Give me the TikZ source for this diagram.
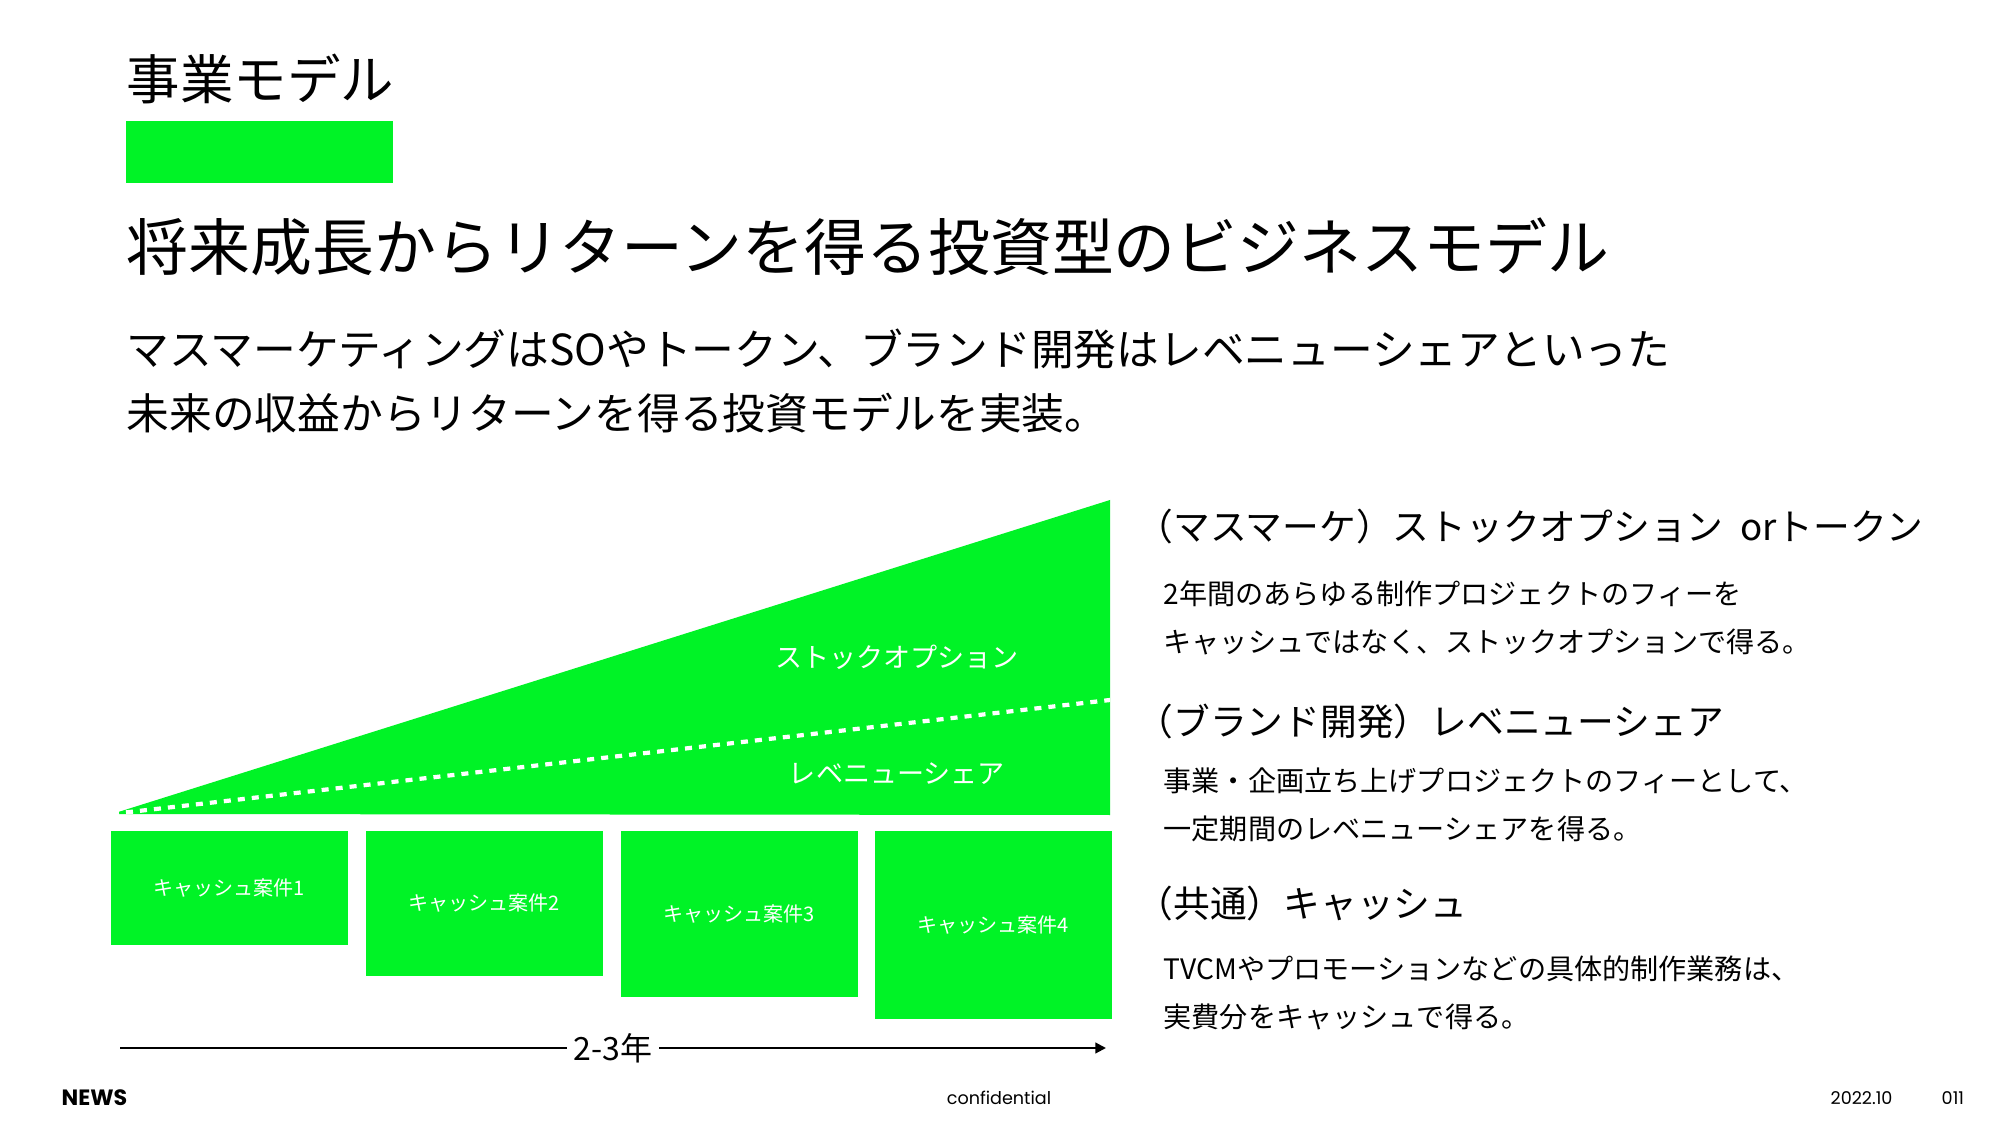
\documentclass[tikz,border=0pt]{standalone}
\usepackage{fontspec}
\setmainfont{Noto Sans CJK JP}
\newfontfamily\footfont{Poppins}
\usetikzlibrary{arrows.meta}
\definecolor{newsgreen}{RGB}{0,243,38}
\newcommand{\fsz}[1]{\fontsize{#1}{1.2\dimexpr#1\relax}\selectfont}

\begin{document}
\begin{tikzpicture}[x=0.01cm,y=-0.01cm,
    txt/.style={inner sep=0pt,anchor=west},
    pagetitle/.style={txt,font=\fsz{15.2pt}},
    catch/.style={txt,font=\fsz{17.6pt}},
    lead/.style={txt,font=\fsz{12.15pt}},
    subhead/.style={txt,font=\fsz{10.45pt}},
    body/.style={txt,font=\fsz{8pt}},
    layer/.style={inner sep=0pt,text=white,font=\fsz{7.7pt}},
    casebox/.style={fill=newsgreen,text=white,inner sep=0pt,anchor=north west,
        minimum width=2.37cm,font=\fsz{5.7pt}},
    foot/.style={inner sep=0pt,font=\footfont\fsz{5pt}}]
    \useasboundingbox[fill=white] (0,0) rectangle (2000,1125);

    % heading block
    \node[pagetitle] (title) at (126,79) {事業モデル};
    \fill[newsgreen] (126,121) rectangle (393,183);
    \node[catch] (catchline) at (126,247) {将来成長からリターンを得る投資型のビジネスモデル};
    \node[lead] (lead1) at (126,349) {マスマーケティングはSOやトークン、ブランド開発はレベニューシェアといった};
    \node[lead] (lead2) at (126,413) {未来の収益からリターンを得る投資モデルを実装。};

    % growth wedge
    \coordinate (apex) at (112,814);
    \coordinate (peak) at (1110,500);
    \coordinate (base) at (1110,815);
    \coordinate (split) at (1110,700);
    \fill[newsgreen] (apex) -- (peak) -- (base) -- cycle;
    \draw[white,line width=1.2pt,dash pattern=on 2pt off 2pt] (apex) -- (split);
    \node[layer] (stock) at (897,657) {ストックオプション};
    \node[layer] (share) at (897,774) {レベニューシェア};

    % cash projects
    \foreach \i/\X/\H in {1/110/1.14,2/365/1.45,3/620/1.66,4/874/1.88} {
        \node[casebox,minimum height=\H cm] (case\i) at (\X,830) {キャッシュ案件\i};}

    % time axis
    \coordinate (tstart) at (120,1048);
    \coordinate (tend) at (1106,1048);
    \draw[line width=0.6pt,-{Triangle[length=3pt,width=3pt]}] (tstart) -- (tend)
        node[midway,fill=white,inner sep=2pt,font=\fsz{9.1pt}] (span) {2-3年};

    % explanations
    \node[subhead] (h1) at (1136,527) {（マスマーケ）ストックオプション\hspace{0.45em}orトークン};
    \node[body] (b1a) at (1163,594) {2年間のあらゆる制作プロジェクトのフィーを};
    \node[body] (b1b) at (1163,642) {キャッシュではなく、ストックオプションで得る。};
    \node[subhead] (h2) at (1136,722) {（ブランド開発）レベニューシェア};
    \node[body] (b2a) at (1163,781) {事業・企画立ち上げプロジェクトのフィーとして、};
    \node[body] (b2b) at (1163,829) {一定期間のレベニューシェアを得る。};
    \node[subhead] (h3) at (1136,904) {（共通）キャッシュ};
    \node[body] (b3a) at (1163,969) {TVCMやプロモーションなどの具体的制作業務は、};
    \node[body] (b3b) at (1163,1017) {実費分をキャッシュで得る。};

    % footer
    \node[foot,anchor=west,font=\footfont\bfseries\fsz{6.3pt}] (brand) at (61,1098) {NEWS};
    \node[foot] (conf) at (999,1098) {confidential};
    \node[foot,anchor=west] (date) at (1830,1098) {2022.10};
    \node[foot,anchor=west] (page) at (1941,1098) {011};
\end{tikzpicture}
\end{document}
